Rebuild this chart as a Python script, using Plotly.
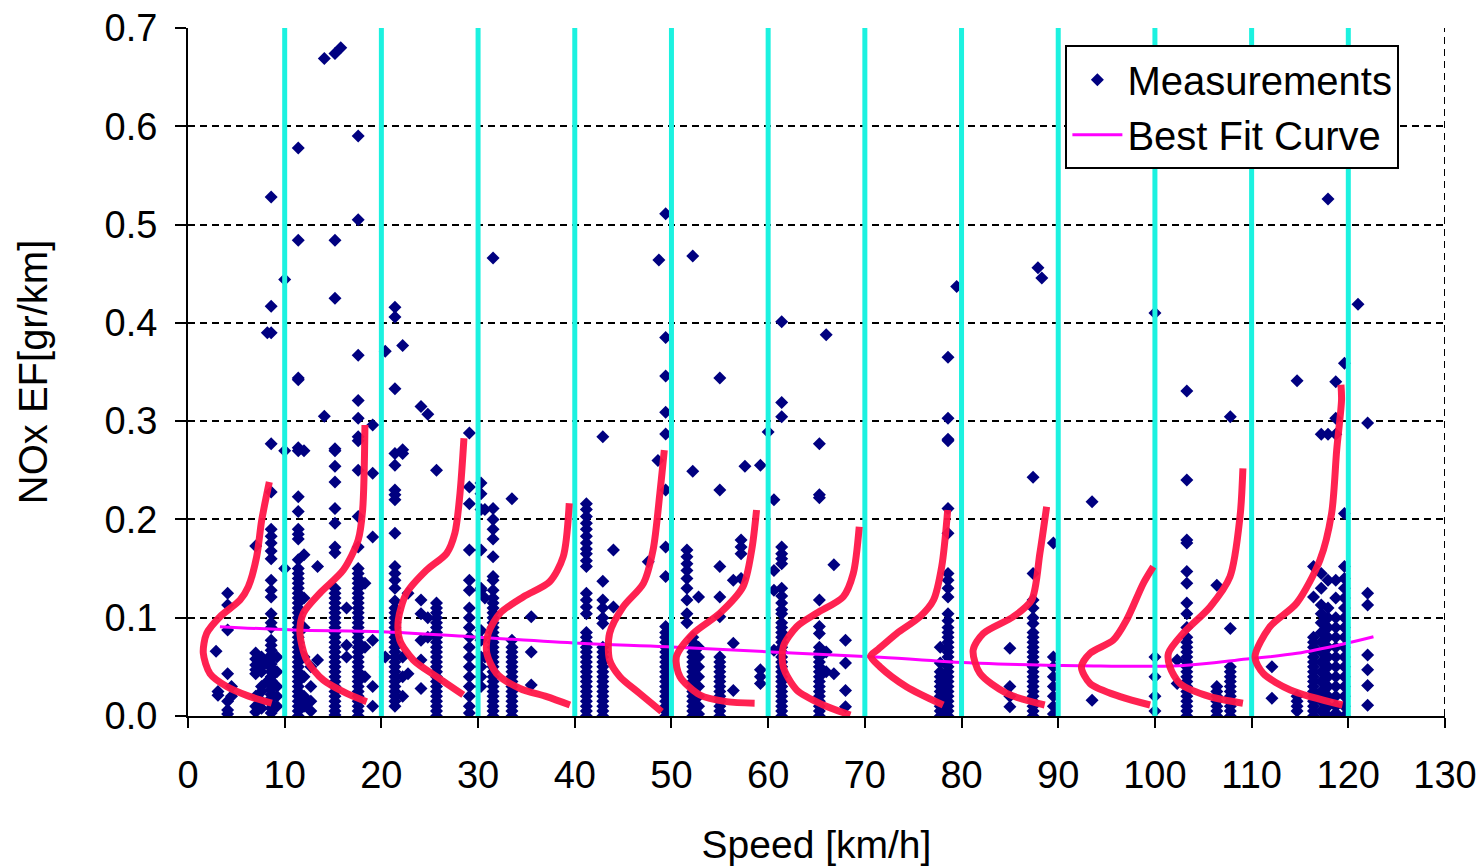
import plotly.graph_objects as go

# ---------------- data ----------------
# measurement columns: (speed km/h, list of NOx EF values g/km)
meas_columns = [
    (2.9, [0.066]),
    (3.1, [0.021, 0.025]),
    (4.1, [0.125, 0.113, 0.0875, 0.043, 0.006, 0.002, 0.015]),
    (4.5, [0.02, 0.03]),
    (7.0, [0.173, 0.064, 0.058, 0.052, 0.047, 0.043, 0.01, 0.004, 0.02]),
    (7.6, [0.06, 0.055, 0.05, 0.045, 0.03, 0.025, 0.015, 0.008]),
    (8.2, [0.39, 0.055, 0.035]),
    (8.6, [0.528, 0.417, 0.39, 0.277, 0.228, 0.19, 0.183, 0.176, 0.168, 0.16, 0.138, 0.128, 0.121,
           0.104, 0.095, 0.09, 0.077, 0.072, 0.067, 0.062, 0.058, 0.053, 0.049, 0.045, 0.04, 0.036,
           0.031, 0.027, 0.022, 0.018, 0.013, 0.008, 0.003]),
    (9.2, [0.06, 0.045, 0.03, 0.02, 0.01]),
    (10.0, [0.444, 0.27, 0.15]),
    (11.4, [0.578, 0.484, 0.342, 0.344, 0.273, 0.27, 0.223, 0.208, 0.19, 0.185, 0.18, 0.159, 0.15,
            0.145, 0.14, 0.135, 0.13, 0.125, 0.12, 0.115, 0.11, 0.105, 0.1, 0.095, 0.09, 0.085, 0.08,
            0.075, 0.07, 0.065, 0.06, 0.055, 0.05, 0.045, 0.04, 0.035, 0.03, 0.025, 0.02, 0.015,
            0.01, 0.005, 0.0]),
    (12.0, [0.27, 0.164, 0.12, 0.09, 0.06, 0.04, 0.02, 0.01]),
    (12.7, [0.05, 0.03, 0.015, 0.005]),
    (13.4, [0.152, 0.057]),
    (14.1, [0.669, 0.305]),
    (15.2, [0.674, 0.484, 0.425, 0.272, 0.27, 0.254, 0.238, 0.211, 0.196, 0.172, 0.166, 0.13, 0.125,
            0.12, 0.115, 0.11, 0.105, 0.1, 0.095, 0.09, 0.085, 0.08, 0.075, 0.07, 0.065, 0.06, 0.055,
            0.05, 0.045, 0.04, 0.035, 0.03, 0.025, 0.02, 0.015, 0.01, 0.005, 0.001]),
    (15.8, [0.680]),
    (16.4, [0.072, 0.11, 0.06]),
    (17.6, [0.59, 0.505, 0.367, 0.321, 0.303, 0.284, 0.28, 0.25, 0.203, 0.172, 0.15, 0.145, 0.14,
            0.135, 0.13, 0.125, 0.12, 0.115, 0.11, 0.105, 0.1, 0.095, 0.09, 0.085, 0.08, 0.075, 0.07,
            0.065, 0.06, 0.055, 0.05, 0.045, 0.04, 0.035, 0.03, 0.025, 0.02, 0.015, 0.01, 0.005, 0.0]),
    (18.3, [0.135, 0.07, 0.04]),
    (19.1, [0.296, 0.247, 0.182, 0.077, 0.03, 0.01]),
    (20.4, [0.371, 0.06]),
    (21.4, [0.416, 0.406, 0.333, 0.267, 0.255, 0.23, 0.225, 0.22, 0.186, 0.152, 0.145, 0.138, 0.13,
            0.117, 0.11, 0.105, 0.1, 0.095, 0.09, 0.085, 0.08, 0.075, 0.07, 0.065, 0.06, 0.055, 0.05,
            0.045, 0.04, 0.035, 0.03, 0.025, 0.02, 0.015, 0.01]),
    (22.2, [0.377, 0.271, 0.267, 0.06, 0.04, 0.02]),
    (22.75, [0.125, 0.043]),
    (24.1, [0.315, 0.118, 0.104, 0.077, 0.057, 0.028]),
    (24.8, [0.307, 0.1, 0.08]),
    (25.7, [0.25, 0.115, 0.11, 0.105, 0.1, 0.095, 0.09, 0.085, 0.08, 0.075, 0.07, 0.065, 0.06, 0.055,
            0.05, 0.045, 0.04, 0.035, 0.03, 0.025, 0.02, 0.015, 0.01, 0.005, 0.0]),
    (29.1, [0.288, 0.233, 0.216, 0.169, 0.138, 0.128, 0.11, 0.1, 0.09, 0.08, 0.07, 0.06, 0.05, 0.04,
            0.03, 0.02, 0.01, 0.003]),
    (30.3, [0.237, 0.226, 0.21, 0.169, 0.13, 0.128, 0.087, 0.077, 0.06, 0.05, 0.04, 0.03]),
    (30.7, [0.21, 0.12, 0.06]),
    (31.55, [0.466, 0.211, 0.2, 0.19, 0.18, 0.162, 0.142, 0.138, 0.128, 0.12, 0.115, 0.11, 0.105,
             0.1, 0.095, 0.09, 0.085, 0.08, 0.075, 0.07, 0.065, 0.06, 0.055, 0.05, 0.045, 0.04,
             0.035, 0.03, 0.025, 0.02, 0.015, 0.01, 0.005, 0.0]),
    (33.5, [0.221, 0.077, 0.07, 0.065, 0.06, 0.055, 0.05, 0.045, 0.04, 0.035, 0.03, 0.025, 0.02,
            0.015, 0.01, 0.005, 0.0]),
    (35.5, [0.101, 0.065, 0.0315]),
    (41.2, [0.216, 0.21, 0.203, 0.196, 0.19, 0.183, 0.176, 0.17, 0.165, 0.158, 0.152, 0.125, 0.118,
            0.111, 0.104, 0.085, 0.08, 0.075, 0.07, 0.065, 0.06, 0.055, 0.05, 0.045, 0.04, 0.035,
            0.03, 0.025, 0.02, 0.015, 0.01, 0.005, 0.0]),
    (42.9, [0.284, 0.137, 0.118, 0.11, 0.1, 0.094, 0.07, 0.065, 0.06, 0.055, 0.05, 0.045, 0.04,
            0.035, 0.03, 0.025, 0.02, 0.015, 0.01, 0.005, 0.0]),
    (44.0, [0.169, 0.111]),
    (47.6, [0.157]),
    (48.6, [0.26]),
    (48.7, [0.464]),
    (49.4, [0.511, 0.385, 0.346, 0.309, 0.287, 0.23, 0.172, 0.142, 0.091, 0.085, 0.08, 0.075, 0.07,
            0.065, 0.06, 0.055, 0.05, 0.045, 0.04, 0.035, 0.03, 0.025, 0.02, 0.015, 0.01, 0.005, 0.0]),
    (51.6, [0.169, 0.162, 0.155, 0.148, 0.14, 0.13, 0.118, 0.104, 0.095]),
    (52.2, [0.468, 0.249, 0.08, 0.075, 0.07, 0.065, 0.06, 0.055, 0.05, 0.045, 0.04, 0.035, 0.03,
            0.025, 0.02, 0.015, 0.01, 0.005, 0.0]),
    (52.8, [0.121, 0.07, 0.06, 0.05, 0.04, 0.03, 0.02, 0.01, 0.002]),
    (55.0, [0.344, 0.23, 0.152, 0.121, 0.101, 0.06, 0.055, 0.05, 0.045, 0.04, 0.035, 0.03, 0.025,
            0.02, 0.015, 0.01, 0.005, 0.0]),
    (56.4, [0.138, 0.074, 0.026]),
    (57.2, [0.179, 0.172, 0.165, 0.14]),
    (57.6, [0.254]),
    (59.2, [0.255, 0.047, 0.04, 0.033]),
    (60.0, [0.289]),
    (60.6, [0.22, 0.148, 0.128, 0.067]),
    (61.4, [0.401, 0.319, 0.3045, 0.172, 0.165, 0.16, 0.155, 0.13, 0.122, 0.115, 0.108, 0.104,
            0.095, 0.09, 0.085, 0.08, 0.075, 0.07, 0.065, 0.06, 0.055, 0.05, 0.045, 0.04, 0.035,
            0.03, 0.025, 0.02, 0.015, 0.01, 0.005, 0.0]),
    (65.3, [0.277, 0.225, 0.222, 0.118, 0.091, 0.084, 0.07, 0.065, 0.06, 0.055, 0.05, 0.045, 0.04,
            0.035, 0.03, 0.025, 0.02, 0.015, 0.01, 0.005, 0.0]),
    (66.0, [0.388, 0.065, 0.045]),
    (66.8, [0.154, 0.043]),
    (68.0, [0.077, 0.054, 0.026, 0.0095]),
    (77.8, [0.07, 0.054, 0.045, 0.04, 0.035, 0.03, 0.025, 0.02, 0.015, 0.01, 0.005, 0.0]),
    (78.6, [0.365, 0.303, 0.2815, 0.28, 0.211, 0.186, 0.145, 0.138, 0.13, 0.121, 0.104, 0.097,
            0.09, 0.085, 0.08, 0.075, 0.07, 0.065, 0.06, 0.055, 0.05, 0.045, 0.04, 0.035, 0.03,
            0.025, 0.02, 0.015, 0.01, 0.005, 0.0]),
    (79.5, [0.437]),
    (85.0, [0.069, 0.03, 0.02, 0.0095]),
    (87.4, [0.243, 0.145, 0.118, 0.11, 0.1, 0.094, 0.085, 0.08, 0.075, 0.07, 0.065, 0.06, 0.055,
            0.05, 0.045, 0.04, 0.035, 0.03, 0.025, 0.02, 0.015, 0.01, 0.005, 0.0]),
    (87.9, [0.456]),
    (88.3, [0.4456]),
    (89.5, [0.176, 0.06, 0.05, 0.04, 0.03, 0.02, 0.01, 0.002]),
    (93.5, [0.218, 0.016]),
    (100.0, [0.41, 0.06, 0.04, 0.02, 0.005]),
    (102.3, [0.057, 0.033]),
    (103.3, [0.3307, 0.24, 0.179, 0.176, 0.147, 0.135, 0.115, 0.104, 0.09, 0.08, 0.075, 0.07, 0.065,
             0.06, 0.055, 0.05, 0.045, 0.04, 0.035, 0.03, 0.025, 0.02, 0.015, 0.01, 0.005, 0.0]),
    (106.4, [0.133, 0.03, 0.025, 0.02, 0.015, 0.01, 0.005, 0.0]),
    (107.8, [0.3045, 0.089, 0.05, 0.045, 0.04, 0.035, 0.03, 0.025, 0.02, 0.015, 0.01, 0.005, 0.0]),
    (112.1, [0.05, 0.018]),
    (114.7, [0.341, 0.02, 0.015, 0.01, 0.005]),
    (116.4, [0.152, 0.121, 0.08, 0.075, 0.07, 0.065, 0.06, 0.055, 0.05, 0.045, 0.04, 0.035, 0.03,
             0.025, 0.02, 0.015, 0.01, 0.005, 0.0]),
    (117.2, [0.2866, 0.145, 0.13, 0.113, 0.104, 0.095, 0.085, 0.075, 0.065, 0.055, 0.045, 0.035,
             0.025, 0.015, 0.005]),
    (117.9, [0.526, 0.2866, 0.138, 0.11, 0.1, 0.09, 0.08, 0.07, 0.06, 0.05, 0.04, 0.03, 0.02, 0.01, 0.0]),
    (118.7, [0.303, 0.34, 0.2866, 0.138, 0.12, 0.1, 0.09, 0.08, 0.07, 0.06, 0.05, 0.04, 0.03, 0.02,
             0.01, 0.003]),
    (119.6, [0.359, 0.206, 0.152, 0.14, 0.13, 0.12, 0.11, 0.1, 0.09, 0.08, 0.07, 0.06, 0.05, 0.04,
             0.03, 0.02, 0.01, 0.0]),
    (121.0, [0.419]),
    (122.0, [0.298, 0.125, 0.113, 0.062, 0.047, 0.031, 0.011]),
]

# best-fit curve
fit_speed = [3.3, 10.9, 20.0, 29.2, 40.5, 49.5, 59.8, 71.6, 81.9, 92.2, 102.6, 109.5, 114.7, 119.8, 122.6]
fit_nox = [0.0909, 0.0875, 0.0858, 0.0807, 0.074, 0.0705, 0.0654, 0.0597, 0.0536, 0.0512, 0.0512,
           0.058, 0.0638, 0.074, 0.0807]

# speed bin edges (vertical separators)
bin_edges = [10, 20, 30, 40, 50, 60, 70, 80, 90, 100, 110, 120]

# per-bin distribution curves (speed coordinate, NOx coordinate)
dist_speed = [
    [8.41, 7.62, 7.1, 6.24, 5.38, 3.31, 1.93, 1.58, 2.28, 4.0, 6.07, 8.66],
    [18.3, 18.06, 17.6, 16.06, 13.65, 11.93, 11.58, 12.27, 13.99, 16.41, 18.48],
    [28.54, 28.13, 27.6, 26.75, 24.68, 22.6, 21.75, 21.9, 23.3, 25.7, 28.47],
    [39.43, 38.8, 37.4, 34.7, 32.26, 31.05, 30.9, 31.9, 34.33, 37.1, 39.5],
    [49.26, 48.8, 48.1, 47.1, 45.0, 43.6, 43.6, 44.67, 46.7, 48.98],
    [58.8, 58.3, 57.4, 55.0, 52.25, 50.5, 50.88, 52.95, 55.7, 58.6],
    [69.42, 68.8, 67.77, 65.0, 62.95, 61.56, 61.56, 62.95, 65.7, 68.5],
    [78.57, 77.95, 77.1, 75.7, 73.3, 71.4, 70.6, 71.57, 74.3, 78.1],
    [88.8, 88.1, 87.25, 85.35, 82.25, 81.2, 81.9, 84.67, 88.6],
    [99.83, 98.8, 97.07, 95.7, 93.3, 92.4, 93.3, 96.4, 99.5],
    [109.1, 108.8, 107.76, 105.7, 102.9, 101.4, 101.55, 102.6, 105.7, 109.1],
    [119.24, 119.3, 118.8, 118.27, 117.07, 114.65, 111.9, 110.35, 111.2, 114.0, 119.4],
]
dist_nox = [
    [0.238, 0.199, 0.162, 0.1316, 0.118, 0.101, 0.084, 0.064, 0.043, 0.030, 0.021, 0.013],
    [0.296, 0.2096, 0.179, 0.1485, 0.125, 0.1045, 0.084, 0.057, 0.0366, 0.023, 0.0146],
    [0.2825, 0.2266, 0.186, 0.1655, 0.1485, 0.125, 0.0977, 0.0773, 0.057, 0.040, 0.0214],
    [0.2164, 0.162, 0.1366, 0.1214, 0.1045, 0.084, 0.064, 0.0434, 0.028, 0.0197, 0.0112],
    [0.2706, 0.2266, 0.169, 0.135, 0.111, 0.084, 0.057, 0.040, 0.023, 0.0044],
    [0.2096, 0.169, 0.1316, 0.1045, 0.084, 0.060, 0.040, 0.0214, 0.0146, 0.013],
    [0.1926, 0.145, 0.1214, 0.1045, 0.0909, 0.0705, 0.050, 0.0265, 0.0112, 0.001],
    [0.2096, 0.152, 0.118, 0.101, 0.084, 0.068, 0.061, 0.050, 0.0298, 0.0112],
    [0.213, 0.1655, 0.118, 0.101, 0.084, 0.067, 0.0434, 0.023, 0.0112],
    [0.152, 0.135, 0.0977, 0.0773, 0.0638, 0.050, 0.033, 0.0197, 0.0112],
    [0.252, 0.2028, 0.1417, 0.111, 0.084, 0.064, 0.050, 0.033, 0.0197, 0.013],
    [0.337, 0.3215, 0.2706, 0.206, 0.1587, 0.1147, 0.0909, 0.060, 0.0434, 0.0265, 0.0112],
]

x_ticks = list(range(0, 131, 10))
y_ticks = [0.0, 0.1, 0.2, 0.3, 0.4, 0.5, 0.6, 0.7]
x_range = [0, 130]
y_range = [0, 0.7]

# ---------------- figure ----------------
FONT = "Liberation Sans, Arial, sans-serif"
meas_x = [s for s, ys in meas_columns for _ in ys]
meas_y = [y for _, ys in meas_columns for y in ys]

fig = go.Figure()

fig.add_trace(go.Scatter(
    x=meas_x, y=meas_y, mode="markers", name="Measurements",
    marker=dict(symbol="diamond", size=10, color="#000080", line=dict(width=0)),
))

fig.add_trace(go.Scatter(
    x=fit_speed, y=fit_nox, mode="lines", name="Best Fit Curve",
    line=dict(color="#FF00FF", width=3, shape="spline"),
))

sep_x, sep_y = [], []
for e in bin_edges:
    sep_x += [e, e, None]
    sep_y += [y_range[0], y_range[1], None]
fig.add_trace(go.Scatter(
    x=sep_x, y=sep_y, mode="lines", showlegend=False, hoverinfo="skip",
    line=dict(color="rgb(28,242,224)", width=5),
))

for xs, ys in zip(dist_speed, dist_nox):
    fig.add_trace(go.Scatter(
        x=xs, y=ys, mode="lines", showlegend=False, hoverinfo="skip",
        line=dict(color="rgba(255,22,72,0.95)", width=7, shape="spline", smoothing=0.8),
    ))

fig.add_shape(type="line", xref="x", yref="y", x0=x_range[1], x1=x_range[1],
              y0=y_range[0], y1=y_range[1], line=dict(color="black", width=2, dash="7px,5px"),
              layer="below")

fig.update_layout(
    width=1481, height=866,
    margin=dict(l=188, r=36, t=28, b=150),
    paper_bgcolor="white", plot_bgcolor="white",
    font=dict(family=FONT, color="black"),
    showlegend=True,
    legend=dict(
        x=0.698, y=0.975, xanchor="left", yanchor="top",
        bgcolor="white", bordercolor="black", borderwidth=2,
        font=dict(size=40, family=FONT, color="black"),
        itemwidth=50, tracegroupgap=0,
    ),
    xaxis=dict(
        range=x_range, tickmode="array", tickvals=x_ticks, ticktext=[str(t) for t in x_ticks],
        showgrid=False, zeroline=False, showline=True, linecolor="black", linewidth=2,
        ticks="outside", ticklen=10, tickwidth=2, tickcolor="black",
        tickfont=dict(size=38, family=FONT), ticklabelstandoff=14,
        title=dict(text="Speed [km/h]", font=dict(size=39, family=FONT), standoff=38),
        automargin=False,
    ),
    yaxis=dict(
        range=y_range, tickmode="array", tickvals=y_ticks, ticktext=[f"{t:.1f}" for t in y_ticks],
        showgrid=True, gridcolor="black", gridwidth=2, griddash="7px,5px",
        zeroline=False, showline=True, linecolor="black", linewidth=2,
        ticks="outside", ticklen=11, tickwidth=2, tickcolor="black",
        tickfont=dict(size=38, family=FONT), ticklabelstandoff=10,
        title=dict(text="NOx EF[gr/km]", font=dict(size=40, family=FONT), standoff=45),
        automargin=False,
    ),
)

fig.write_html("out.html")
